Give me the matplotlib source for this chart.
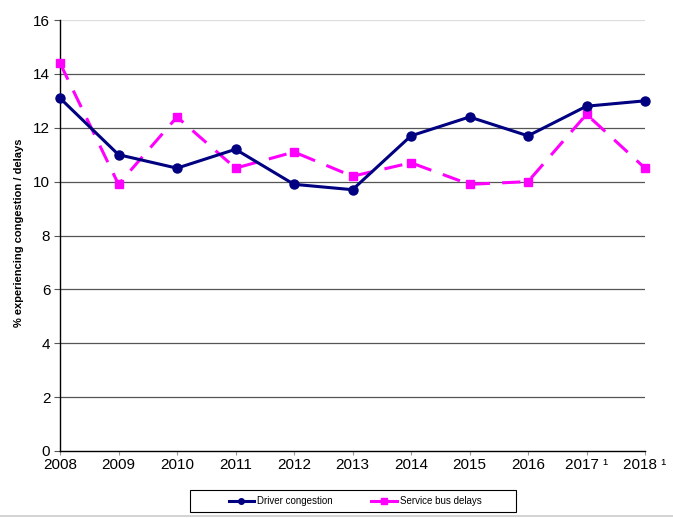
import matplotlib
matplotlib.use("Agg")
import matplotlib.pyplot as plt
from matplotlib.lines import Line2D
from matplotlib.patches import Rectangle

plt.rcParams['font.family'] = ['Liberation Sans', 'DejaVu Sans']

years = ["2008", "2009", "2010", "2011", "2012", "2013", "2014", "2015", "2016", "2017 ¹", "2018 ¹"]
driver_congestion = [13.1, 11.0, 10.5, 11.2, 9.9, 9.7, 11.7, 12.4, 11.7, 12.8, 13.0]
bus_delays = [14.4, 9.9, 12.4, 10.5, 11.1, 10.2, 10.7, 9.9, 10.0, 12.5, 10.5]
y_ticks = [0, 2, 4, 6, 8, 10, 12, 14, 16]

W, H = 673, 518
fig = plt.figure(figsize=(W/100, H/100), dpi=100)
ax = fig.add_axes([60/W, 1-451/H, (645-60)/W, (451-20)/H])

x = list(range(len(years)))
ax.plot(x, driver_congestion, color='#000080', lw=2.2, marker='o', ms=6.5,
        label='Driver congestion', zorder=4, clip_on=False)
ax.plot(x, bus_delays, color='#FF00FF', lw=2.2, marker='s', ms=6, dashes=(6, 4),
        label='Service bus delays', zorder=3, clip_on=False)

ax.set_xlim(0, len(years)-1)
ax.set_ylim(0, 16)
ax.set_yticks(y_ticks)
ax.set_yticklabels([str(v) for v in y_ticks], fontsize=11)
ax.set_xticks(x)
ax.set_xticklabels(years, fontsize=11)
for yv in y_ticks[1:-1]:
    ax.axhline(yv, color='#555555', lw=0.9, zorder=1)
ax.axhline(16, color='#dddddd', lw=0.9, zorder=1)

for s in ['top', 'right']:
    ax.spines[s].set_visible(False)
ax.spines['left'].set_color('black')
ax.spines['bottom'].set_color('black')
ax.spines['left'].set_linewidth(1.0)
ax.spines['bottom'].set_linewidth(1.0)
ax.tick_params(axis='y', length=4, width=0.8, color='#555555', pad=3)
ax.tick_params(axis='x', length=3, width=0.8, color='#999999', pad=2)

ax.set_ylabel('% experiencing congestion / delays', fontsize=8, fontweight='bold')
ax.yaxis.set_label_coords((24-60)/(645-60), (451-233)/(451-20))

# legend frame
fig.patches.append(Rectangle((190/W, 1-512/H), (516-190)/W, 22/H, transform=fig.transFigure,
                             fill=False, edgecolor='black', lw=0.8, zorder=9))
# bottom border line
fig.add_artist(Line2D([0, 1], [1-516/H, 1-516/H], transform=fig.transFigure,
                      color='#cccccc', lw=1.2))

handles = [Line2D([], [], color='#000080', lw=2.2, marker='o', ms=4),
           Line2D([], [], color='#FF00FF', lw=2.2, marker='s', ms=4)]
leg = fig.legend(handles, ['Driver congestion', 'Service bus delays'],
                 loc='center', bbox_to_anchor=(355/W, 1-501/H), ncol=2,
                 fontsize=7, frameon=False,
                 handlelength=2.6, handletextpad=0.3, columnspacing=4.0,
                 borderpad=0.3)
leg.set_zorder(10)

fig.savefig('out.png', dpi=100)
